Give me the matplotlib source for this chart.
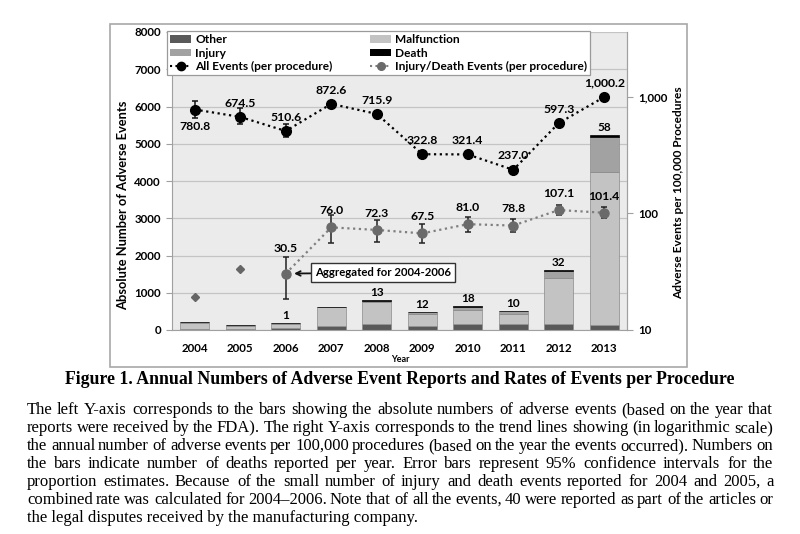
import numpy as np
import matplotlib
matplotlib.use("Agg")
import matplotlib.pyplot as plt
from matplotlib.patches import Rectangle, Patch
from matplotlib.lines import Line2D
from matplotlib.ticker import FixedLocator, FixedFormatter, NullLocator

# ---------------- data ----------------
years = ['2004', '2005', '2006', '2007', '2008', '2009', '2010', '2011', '2012', '2013']
other = [15, 40, 60, 110, 160, 110, 150, 150, 160, 140]
malfunction = [185, 80, 95, 510, 590, 310, 400, 270, 1235, 4100]
injury = [10, 15, 40, 10, 40, 50, 75, 90, 180, 930]
death = [0, 0, 1, 0, 13, 12, 18, 10, 32, 58]
death_labels = ['', '', '1', '', '13', '12', '18', '10', '32', '58']

all_events = [780.8, 674.5, 510.6, 872.6, 715.9, 322.8, 321.4, 237.0, 597.3, 1000.2]
all_lo = [665, 587, 454, 840, 702, 314, 313, 230, 586, 986]
all_hi = [930, 805, 586, 905, 730, 332, 330, 244, 609, 1015]
all_labels = ['780.8', '674.5', '510.6', '872.6', '715.9', '322.8', '321.4', '237.0', '597.3', '1,000.2']

inj_death = [np.nan, np.nan, 30.5, 76.0, 72.3, 67.5, 81.0, 78.8, 107.1, 101.4]
inj_lo = [np.nan, np.nan, 18.5, 55.8, 57, 56, 69, 69, 97, 92]
inj_hi = [np.nan, np.nan, 42.3, 97, 88, 81, 93, 89, 118, 114]
inj_labels = ['', '', '30.5', '76.0', '72.3', '67.5', '81.0', '78.8', '107.1', '101.4']
early_rate = [19.2, 33.4, np.nan, np.nan, np.nan, np.nan, np.nan, np.nan, np.nan, np.nan]

left_ticks = [0, 1000, 2000, 3000, 4000, 5000, 6000, 7000, 8000]
right_ticks = [10, 100, 1000]
right_tick_labels = ['10', '100', '1,000']

caption = "Figure 1. Annual Numbers of Adverse Event Reports and Rates of Events per Procedure"
body_lines = [
    "The left Y-axis corresponds to the bars showing the absolute numbers of adverse events (based on the year that",
    "reports were received by the FDA). The right Y-axis corresponds to the trend lines showing (in logarithmic scale)",
    "the annual number of adverse events per 100,000 procedures (based on the year the events occurred). Numbers on",
    "the bars indicate number of deaths reported per year. Error bars represent 95% confidence intervals for the",
    "proportion estimates. Because of the small number of injury and death events reported for 2004 and 2005, a",
    "combined rate was calculated for 2004\u20132006. Note that of all the events, 40 were reported as part of the articles or",
    "the legal disputes received by the manufacturing company.",
]

# ---------------- style ----------------
plt.rcParams['font.family'] = ['Lato', 'DejaVu Sans']
plt.rcParams['font.weight'] = 'bold'
W, H = 800, 534
fig = plt.figure(figsize=(W / 100, H / 100), dpi=100)

def fx(px):
    return px / W

def fy(py):
    return 1 - py / H

c_other, c_mal, c_inj, c_death = '#595959', '#c3c3c3', '#a2a2a2', '#000000'

# chart frame
fig.patches.append(Rectangle((fx(110), fy(367)), (687 - 110) / W, (367 - 24) / H,
                             transform=fig.transFigure, fill=False, ec='#a8a8a8', lw=1.2))

ax = fig.add_axes([fx(172), fy(330), (627 - 172) / W, (330 - 32) / H])
ax.set_facecolor('#ebebeb')
ax.set_xlim(-0.5, 9.5)
ax.set_ylim(0, 8000)
ax.set_axisbelow(True)
ax.yaxis.grid(True, color='#c4c4c4', lw=0.9)
ax.set_yticks(left_ticks)
ax.tick_params(axis='y', direction='out', length=4, color='#a0a0a0', labelsize=8.3, pad=4)
ax.tick_params(axis='x', length=0, labelsize=8.3, pad=9)
ax.set_xticks(range(len(years)))
ax.set_xticklabels(years)
ax.spines['top'].set_visible(False)
for s in ['left', 'bottom', 'right']:
    ax.spines[s].set_color('#a0a0a0')

x = np.arange(len(years))
bw = 0.64
bot = np.zeros(len(years))
handles_bars = {}
for vals, col, name in [(other, c_other, 'Other'), (malfunction, c_mal, 'Malfunction'),
                        (injury, c_inj, 'Injury'), (death, c_death, 'Death')]:
    v = np.array(vals, dtype=float)
    ax.bar(x, v, bw, bottom=bot, color=col, edgecolor='#8a8a8a' if name != 'Death' else '#000000',
           linewidth=0.5, zorder=2)
    bot = bot + v
    handles_bars[name] = Patch(facecolor=col, edgecolor='none')

for i, lab in enumerate(death_labels):
    if lab:
        ax.annotate(lab, (x[i], bot[i]), xytext=(0, 1.5), textcoords='offset points',
                    ha='center', va='bottom', fontsize=8.5, fontweight='bold', zorder=3)

# ---------------- right log axis ----------------
ax2 = ax.twinx()
ax2.set_yscale('log')
ax2.set_ylim(10, 10 ** (1 + 298 / 116.5))
ax2.yaxis.set_major_locator(FixedLocator(right_ticks))
ax2.yaxis.set_major_formatter(FixedFormatter(right_tick_labels))
ax2.yaxis.set_minor_locator(NullLocator())
ax2.tick_params(axis='y', direction='out', length=4, color='#a0a0a0', labelsize=8.3, pad=4)
for s in ['top', 'left', 'bottom']:
    ax2.spines[s].set_visible(False)
ax2.spines['right'].set_color('#a0a0a0')

dot = (0, (1, 1.6))
ae = np.array(all_events)
ax2.errorbar(x, ae, yerr=[ae - np.array(all_lo), np.array(all_hi) - ae], fmt='none',
             ecolor='#111111', elinewidth=1.1, capsize=2.5, capthick=1.1, zorder=4)
ax2.plot(x, ae, linestyle=dot, color='black', lw=1.6, marker='o', markersize=7,
         markerfacecolor='black', markeredgecolor='black', zorder=5)

idr = np.array(inj_death)
ax2.errorbar(x, idr, yerr=[idr - np.array(inj_lo), np.array(inj_hi) - idr], fmt='none',
             ecolor='#222222', elinewidth=1.1, capsize=2.5, capthick=1.1, zorder=4)
ax2.plot(x, idr, linestyle=dot, color='#7f7f7f', lw=1.6, marker='o', markersize=6.5,
         markerfacecolor='#6a6a6a', markeredgecolor='#6a6a6a', zorder=5)
ax2.plot(x, early_rate, linestyle='none', marker='D', markersize=3.6,
         color='#666666', zorder=5)

for i, lab in enumerate(all_labels):
    off = -12.5 if i == 0 else 10
    ax2.annotate(lab, (x[i], all_events[i]), xytext=(0, off), textcoords='offset points',
                 ha='center', va='center', fontsize=8.8, fontweight='bold', zorder=6)
for i, lab in enumerate(inj_labels):
    if lab:
        off = 18 if i == 2 else 12
        ax2.annotate(lab, (x[i], inj_death[i]), xytext=(0, off), textcoords='offset points',
                     ha='center', va='center', fontsize=8.8, fontweight='bold', zorder=6)

ax2.annotate('Aggregated for 2004-2006', xy=(2, 30.5), xytext=(4.14, 31.0),
             textcoords='data', ha='center', va='center', fontsize=8.2, fontweight='bold',
             bbox=dict(boxstyle='square,pad=0.35', fc='white', ec='#333333', lw=1.0),
             arrowprops=dict(arrowstyle='->', color='#111111', lw=1.3, shrinkA=0, shrinkB=6),
             zorder=7)

# axis labels
fig.text(fx(123), fy(205), 'Absolute Number of Adverse Events', rotation=90,
         ha='center', va='center', fontsize=9.3, fontweight='bold')
fig.text(fx(679), fy(193), 'Adverse Events per 100,000 Procedures', rotation=90,
         ha='center', va='center', fontsize=8.6, fontweight='bold')
fig.text(fx(400), fy(360), 'Year', ha='center', va='center', fontsize=6.5, fontweight='bold')

# legend
leg_handles = [
    handles_bars['Other'], handles_bars['Injury'],
    Line2D([], [], linestyle=dot, color='black', lw=1.5, marker='o', markersize=6),
    handles_bars['Malfunction'], handles_bars['Death'],
    Line2D([], [], linestyle=dot, color='#7f7f7f', lw=1.5, marker='o', markersize=5.5,
           markerfacecolor='#6a6a6a', markeredgecolor='#6a6a6a'),
]
leg_labels = ['Other', 'Injury', 'All Events (per procedure)', 'Malfunction', 'Death',
              'Injury/Death Events (per procedure)']
leg = fig.legend(leg_handles, leg_labels, loc='upper left', ncol=2, mode='expand',
                 bbox_to_anchor=(fx(167), fy(74), (590 - 167) / W, (74 - 31) / H),
                 fontsize=8.6, frameon=True, fancybox=False, framealpha=1,
                 edgecolor='#9a9a9a', borderpad=0.25, labelspacing=0.22,
                 handlelength=1.8, handleheight=0.6, handletextpad=0.3, borderaxespad=0)
leg.get_frame().set_linewidth(0.9)
for t in leg.get_texts():
    t.set_fontweight('bold')

# ---------------- caption and body ----------------
serif = ['Liberation Serif', 'DejaVu Serif']
cap = fig.text(fx(400), fy(380), caption, ha='center', va='center', fontsize=12,
               fontweight='bold', family=serif)
renderer = fig.canvas.get_renderer()
cw = cap.get_window_extent(renderer).width
cap.set_fontsize(12 * 663 / cw)

x0, x1 = 27, 773
ys = [414, 432, 450, 468, 486, 504, 522]
body_fs = 12
for li, (line, yy) in enumerate(zip(body_lines, ys)):
    if li == len(body_lines) - 1:
        fig.text(fx(x0), fy(yy), line, ha='left', va='baseline', fontsize=body_fs,
                 fontweight='normal', family=serif)
        continue
    words = line.split(' ')
    ts = [fig.text(0, fy(yy), w, ha='left', va='baseline', fontsize=body_fs,
                   fontweight='normal', family=serif) for w in words]
    widths = [t.get_window_extent(renderer).width for t in ts]
    gap = (x1 - x0 - sum(widths)) / (len(words) - 1)
    xx = x0
    for t, w in zip(ts, widths):
        t.set_x(fx(round(xx)))
        xx += w + gap

fig.savefig('out.png', dpi=100, facecolor='white')
